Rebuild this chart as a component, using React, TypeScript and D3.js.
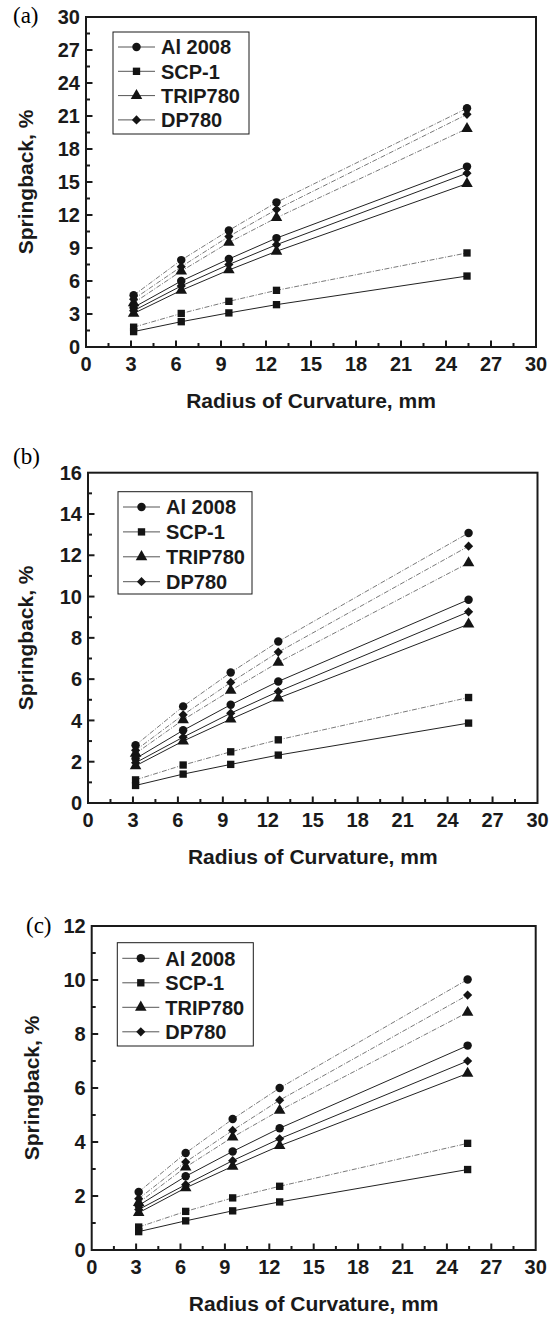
import React from "react";
import * as d3 from "d3";

// ---------- data ----------
const radius = [3.175, 6.35, 9.525, 12.7, 25.4];
const seriesNames = ["Al 2008", "SCP-1", "TRIP780", "DP780"];
const xTicks = [0, 3, 6, 9, 12, 15, 18, 21, 24, 27, 30];

// panel (a)
const aTicks = [0, 3, 6, 9, 12, 15, 18, 21, 24, 27, 30];
const aAlUpper = [4.7, 7.9, 10.6, 13.15, 21.7];
const aAlLower = [3.6, 6.0, 8.0, 9.9, 16.4];
const aScpUpper = [1.8, 3.05, 4.15, 5.15, 8.55];
const aScpLower = [1.4, 2.3, 3.1, 3.85, 6.45];
const aTripUpper = [4.0, 6.9, 9.5, 11.75, 19.85];
const aTripLower = [3.05, 5.15, 7.0, 8.7, 14.85];
const aDpUpper = [4.35, 7.3, 10.05, 12.5, 21.15];
const aDpLower = [3.3, 5.55, 7.5, 9.3, 15.8];

// panel (b)
const bTicks = [0, 2, 4, 6, 8, 10, 12, 14, 16];
const bAlUpper = [2.8, 4.68, 6.32, 7.82, 13.08];
const bAlLower = [2.15, 3.52, 4.76, 5.89, 9.85];
const bScpUpper = [1.12, 1.84, 2.48, 3.06, 5.11];
const bScpLower = [0.85, 1.4, 1.87, 2.32, 3.87];
const bTripUpper = [2.4, 4.03, 5.45, 6.81, 11.63];
const bTripLower = [1.8, 3.0, 4.06, 5.08, 8.66];
const bDpUpper = [2.55, 4.27, 5.84, 7.31, 12.44];
const bDpLower = [1.95, 3.19, 4.35, 5.4, 9.26];

// panel (c)
const cTicks = [0, 2, 4, 6, 8, 10, 12];
const cAlUpper = [2.15, 3.59, 4.85, 6.0, 10.02];
const cAlLower = [1.65, 2.73, 3.65, 4.51, 7.57];
const cScpUpper = [0.85, 1.43, 1.93, 2.36, 3.95];
const cScpLower = [0.68, 1.08, 1.45, 1.78, 2.98];
const cTripUpper = [1.75, 3.07, 4.18, 5.17, 8.8];
const cTripLower = [1.38, 2.3, 3.1, 3.86, 6.54];
const cDpUpper = [1.9, 3.26, 4.43, 5.55, 9.44];
const cDpLower = [1.5, 2.42, 3.31, 4.12, 7.0];

// ---------- styling ----------
const SANS = "'Liberation Sans', Arial, Helvetica, sans-serif";
const SERIF = "'Liberation Serif', 'Times New Roman', serif";
const FS = 20;
const TFS = 21;

type Sym = "circle" | "square" | "triangle" | "diamond";
const symbols: Sym[] = ["circle", "square", "triangle", "diamond"];

function markerPath(s: Sym): { d: string; rot: number } {
  if (s === "circle") return { d: d3.symbol(d3.symbolCircle, 56)() as string, rot: 0 };
  if (s === "square") return { d: d3.symbol(d3.symbolSquare, 54)() as string, rot: 0 };
  if (s === "triangle") return { d: d3.symbol(d3.symbolTriangle, 58)() as string, rot: 0 };
  return { d: d3.symbol(d3.symbolSquare, 42)() as string, rot: 45 };
}

function Marker({ s, cx, cy }: { s: Sym; cx: number; cy: number }) {
  const m = markerPath(s);
  return <path d={m.d} transform={`translate(${cx},${cy}) rotate(${m.rot})`} fill="#141414" />;
}

interface PanelCfg {
  letter: string;
  letterX: number;
  letterY: number;
  left: number;
  right: number;
  top: number;
  bottom: number;
  yTicks: number[];
  titleX: number;
  upper: number[][];
  lower: number[][];
  legend: { x: number; y: number; w: number; h: number; row0: number; step: number };
}

function Panel({ cfg }: { cfg: PanelCfg }) {
  const ymax = cfg.yTicks[cfg.yTicks.length - 1];
  const x = d3.scaleLinear().domain([0, 30]).range([cfg.left, cfg.right]);
  const y = d3.scaleLinear().domain([0, ymax]).range([cfg.bottom, cfg.top]);
  const line = d3
    .line<number>()
    .x((_d, i) => x(radius[i]))
    .y((d) => y(d));
  const ystep = cfg.yTicks[1] - cfg.yTicks[0];
  const yMinor = cfg.yTicks.slice(0, -1).map((t) => t + ystep / 2);
  const xMinor = xTicks.slice(0, -1).map((t) => t + 1.5);
  const lg = cfg.legend;
  return (
    <g>
      <text x={cfg.letterX} y={cfg.letterY} fontFamily={SERIF} fontSize={23}>
        {cfg.letter}
      </text>
      {/* lines */}
      {cfg.upper.map((s, i) => (
        <path key={"u" + i} d={line(s) as string} fill="none" stroke="#6a6a6a" strokeWidth={0.9} strokeDasharray="5 1.6 1 1.6" />
      ))}
      {cfg.lower.map((s, i) => (
        <path key={"l" + i} d={line(s) as string} fill="none" stroke="#222" strokeWidth={1} />
      ))}
      {cfg.upper.map((s, i) =>
        s.map((v, j) => <Marker key={`mu${i}-${j}`} s={symbols[i]} cx={x(radius[j])} cy={y(v)} />)
      )}
      {cfg.lower.map((s, i) =>
        s.map((v, j) => <Marker key={`ml${i}-${j}`} s={symbols[i]} cx={x(radius[j])} cy={y(v)} />)
      )}
      {/* frame */}
      <rect x={cfg.left} y={cfg.top} width={cfg.right - cfg.left} height={cfg.bottom - cfg.top} fill="none" stroke="#1a1a1a" strokeWidth={2} />
      {/* x ticks */}
      {xTicks.slice(1, -1).map((t) => (
        <line key={"xt" + t} x1={x(t)} x2={x(t)} y1={cfg.bottom} y2={cfg.bottom - 6.5} stroke="#1a1a1a" strokeWidth={2} />
      ))}
      {xMinor.map((t) => (
        <line key={"xm" + t} x1={x(t)} x2={x(t)} y1={cfg.bottom} y2={cfg.bottom - 4} stroke="#1a1a1a" strokeWidth={2} />
      ))}
      {xTicks.map((t) => (
        <text key={"xl" + t} x={x(t)} y={cfg.bottom + 23.5} textAnchor="middle" fontFamily={SANS} fontWeight="bold" fontSize={FS} fill="#1a1a1a">
          {t}
        </text>
      ))}
      {/* y ticks */}
      {cfg.yTicks.slice(1, -1).map((t) => (
        <line key={"yt" + t} x1={cfg.left} x2={cfg.left + 6.5} y1={y(t)} y2={y(t)} stroke="#1a1a1a" strokeWidth={2} />
      ))}
      {yMinor.map((t) => (
        <line key={"ym" + t} x1={cfg.left} x2={cfg.left + 4} y1={y(t)} y2={y(t)} stroke="#1a1a1a" strokeWidth={2} />
      ))}
      {cfg.yTicks.map((t) => (
        <text key={"yl" + t} x={cfg.left - 6} y={y(t) + 7.2} textAnchor="end" fontFamily={SANS} fontWeight="bold" fontSize={FS} fill="#1a1a1a">
          {t}
        </text>
      ))}
      {/* axis titles */}
      <text x={(cfg.left + cfg.right) / 2} y={cfg.bottom + 61} textAnchor="middle" fontFamily={SANS} fontWeight="bold" fontSize={TFS} fill="#1a1a1a">
        Radius of Curvature, mm
      </text>
      <text
        transform={`translate(${cfg.titleX},${(cfg.top + cfg.bottom) / 2}) rotate(-90)`}
        textAnchor="middle"
        fontFamily={SANS}
        fontWeight="bold"
        fontSize={TFS}
        fill="#1a1a1a"
      >
        Springback, %
      </text>
      {/* legend */}
      <rect x={lg.x} y={lg.y} width={lg.w} height={lg.h} fill="#fff" stroke="#1a1a1a" strokeWidth={1} />
      {seriesNames.map((name, i) => {
        const cy = lg.row0 + i * lg.step;
        return (
          <g key={"lg" + name}>
            <line x1={lg.x + 5} x2={lg.x + 42} y1={cy} y2={cy} stroke="#555" strokeWidth={1} />
            <Marker s={symbols[i]} cx={lg.x + 23.5} cy={cy} />
            <text x={lg.x + 48} y={cy + 7.2} fontFamily={SANS} fontWeight="bold" fontSize={FS} fill="#1a1a1a">
              {name}
            </text>
          </g>
        );
      })}
    </g>
  );
}

const panels: PanelCfg[] = [
  {
    letter: "(a)",
    letterX: 13,
    letterY: 23,
    left: 86,
    right: 536,
    top: 17,
    bottom: 347,
    yTicks: aTicks,
    titleX: 33,
    upper: [aAlUpper, aScpUpper, aTripUpper, aDpUpper],
    lower: [aAlLower, aScpLower, aTripLower, aDpLower],
    legend: { x: 113, y: 32, w: 136, h: 102, row0: 47, step: 24.3 },
  },
  {
    letter: "(b)",
    letterX: 13,
    letterY: 464,
    left: 88,
    right: 537.5,
    top: 472.7,
    bottom: 803,
    yTicks: bTicks,
    titleX: 33,
    upper: [bAlUpper, bScpUpper, bTripUpper, bDpUpper],
    lower: [bAlLower, bScpLower, bTripLower, bDpLower],
    legend: { x: 118, y: 491.7, w: 134, h: 102.3, row0: 507, step: 24.9 },
  },
  {
    letter: "(c)",
    letterX: 26,
    letterY: 933,
    left: 91.7,
    right: 535.7,
    top: 926,
    bottom: 1250,
    yTicks: cTicks,
    titleX: 39,
    upper: [cAlUpper, cScpUpper, cTripUpper, cDpUpper],
    lower: [cAlLower, cScpLower, cTripLower, cDpLower],
    legend: { x: 117.3, y: 942.7, w: 136, h: 103.3, row0: 958.3, step: 24.5 },
  },
];

export default function App() {
  return (
    <svg
      width={558}
      height={1317}
      viewBox="0 0 558 1317"
      style={{ position: "absolute", left: 0, top: 0, background: "#fff" }}
    >
      <rect x={0} y={0} width={558} height={1317} fill="#fff" />
      {panels.map((p) => (
        <Panel key={p.letter} cfg={p} />
      ))}
    </svg>
  );
}
